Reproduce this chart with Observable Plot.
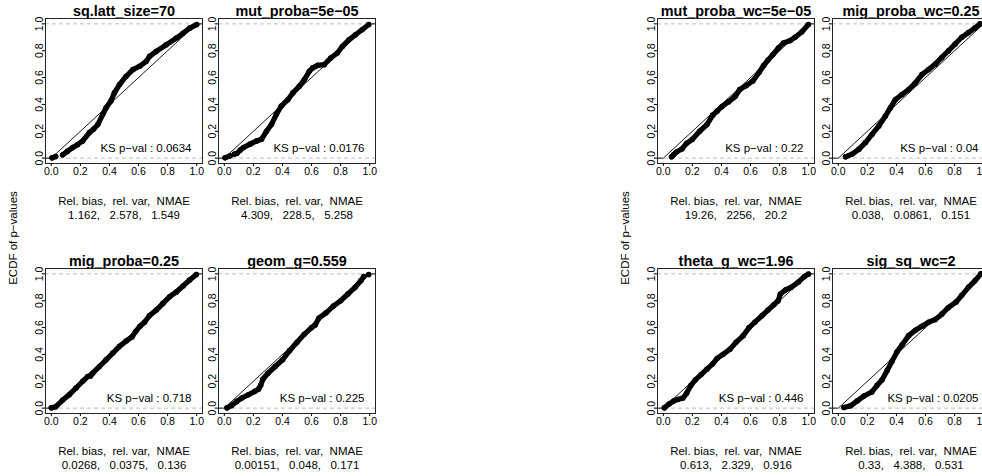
<!DOCTYPE html>
<html>
<head>
<meta charset="utf-8">
<script src="https://cdn.jsdelivr.net/npm/d3@7"></script>
<script src="https://cdn.jsdelivr.net/npm/@observablehq/plot@0.6"></script>
<style>
html, body { margin: 0; padding: 0; background: #fff; overflow: hidden; }
#root { position: relative; width: 982px; height: 476px; overflow: hidden; font-family: "Liberation Sans", Arial, Helvetica, sans-serif; }
.panel { position: absolute; }
.ylab { position: absolute; font-size: 11.5px; white-space: nowrap; line-height: 1; transform: translate(-50%, -50%) rotate(-90deg); color: #000; }
</style>
</head>
<body>
<div id="root"></div>
<script>
// ---- data ----
const titles = ["sq.latt_size=70", "mut_proba=5e\u221205", "mig_proba=0.25", "geom_g=0.559",
                "mut_proba_wc=5e\u221205", "mig_proba_wc=0.25", "theta_g_wc=1.96", "sig_sq_wc=2"];
const ksPvals = ["0.0634", "0.0176", "0.718", "0.225", "0.22", "0.04", "0.446", "0.0205"];
const relBias = ["1.162", "4.309", "0.0268", "0.00151", "19.26", "0.038", "0.613", "0.33"];
const relVar  = ["2.578", "228.5", "0.0375", "0.048", "2256", "0.0861", "2.329", "4.388"];
const nmae    = ["1.549", "5.258", "0.136", "0.171", "20.2", "0.151", "0.916", "0.531"];
const statHeader = "Rel. bias,  rel. var,  NMAE";
const tickVals = [0, 0.2, 0.4, 0.6, 0.8, 1.0];
const refLevels = [0, 1];
const uniformCdf = [[-0.04, 0], [0, 0], [1, 1], [1.04, 1]];

// ECDF curves (p-value, ECDF) ; null = gap between points
const ecdfSqLatt = [[0.005,0.002],[0.03,0.012],null,[0.078,0.025],[0.11,0.05],[0.147,0.079],[0.18,0.1],[0.216,0.128],[0.262,0.19],[0.29,0.215],[0.32,0.25],[0.354,0.326],[0.377,0.375],[0.41,0.425],[0.434,0.486],[0.469,0.548],[0.515,0.61],[0.561,0.659],[0.607,0.684],[0.653,0.721],[0.676,0.758],[0.722,0.795],[0.79,0.844],[0.86,0.894],[0.906,0.93],[0.952,0.968],[1.0,0.995]];
const ecdfMutProba = [[0.005,0.003],[0.04,0.017],null,[0.07,0.03],[0.086,0.035],[0.11,0.06],[0.132,0.079],[0.177,0.104],[0.222,0.128],[0.256,0.141],[0.29,0.2],[0.324,0.25],[0.358,0.326],[0.392,0.388],[0.438,0.437],[0.472,0.486],[0.517,0.536],[0.551,0.585],[0.585,0.647],[0.608,0.672],[0.642,0.691],[0.687,0.696],[0.732,0.746],[0.778,0.783],[0.812,0.832],[0.857,0.881],[0.902,0.919],[0.948,0.956],[0.993,0.995]];
const ecdfMigProba = [[0.0,0.002],[0.03,0.01],[0.078,0.06],[0.124,0.1],[0.17,0.15],[0.216,0.2],[0.25,0.235],[0.27,0.24],[0.285,0.26],[0.331,0.31],[0.377,0.36],[0.423,0.41],[0.469,0.46],[0.515,0.5],[0.555,0.53],[0.58,0.57],[0.61,0.61],[0.641,0.64],[0.676,0.69],[0.722,0.73],[0.768,0.78],[0.814,0.83],[0.86,0.865],[0.906,0.91],[0.952,0.955],[0.998,0.995]];
const ecdfGeomG = [[0.018,0.002],[0.05,0.02],[0.086,0.05],[0.12,0.075],[0.165,0.1],[0.21,0.125],[0.235,0.14],[0.25,0.17],[0.265,0.215],[0.3,0.26],[0.35,0.31],[0.4,0.36],[0.45,0.43],[0.5,0.49],[0.55,0.55],[0.6,0.6],[0.625,0.62],[0.65,0.67],[0.7,0.71],[0.75,0.76],[0.8,0.8],[0.85,0.85],[0.9,0.9],[0.94,0.95],[0.96,0.98],null,[0.993,0.995]];
const ecdfMutProbaWc = [[0.057,0.01],[0.07,0.025],[0.09,0.045],[0.13,0.07],[0.16,0.11],[0.2,0.14],[0.25,0.2],[0.3,0.25],[0.34,0.32],[0.37,0.35],[0.404,0.385],[0.45,0.42],[0.495,0.46],[0.525,0.51],[0.57,0.54],[0.616,0.575],[0.66,0.64],[0.69,0.69],[0.72,0.73],[0.753,0.77],[0.792,0.82],[0.826,0.857],[0.872,0.875],[0.906,0.9],[0.952,0.94],[0.998,0.995]];
const ecdfMigProbaWc = [[0.05,0.01],[0.096,0.03],[0.142,0.067],[0.187,0.116],[0.233,0.178],[0.279,0.24],[0.324,0.314],[0.358,0.375],[0.393,0.437],[0.438,0.474],[0.484,0.511],[0.53,0.56],[0.575,0.622],[0.621,0.66],[0.667,0.7],[0.712,0.75],[0.758,0.8],[0.804,0.85],[0.849,0.9],[0.895,0.935],[0.941,0.97],[0.975,1.0]];
const ecdfThetaGWc = [[0.007,0.002],[0.039,0.03],[0.073,0.055],[0.1,0.065],[0.135,0.075],[0.16,0.11],[0.19,0.17],[0.22,0.21],[0.26,0.25],[0.3,0.29],[0.34,0.33],[0.37,0.37],[0.41,0.4],[0.46,0.44],[0.5,0.49],[0.55,0.54],[0.59,0.6],[0.63,0.64],[0.68,0.69],[0.72,0.73],[0.76,0.77],[0.79,0.8],[0.805,0.85],[0.84,0.88],[0.88,0.9],[0.93,0.94],[0.97,0.98],[0.998,0.998]];
const ecdfSigSqWc = [[0.039,0.005],[0.084,0.017],[0.13,0.054],[0.176,0.09],[0.23,0.12],[0.267,0.17],[0.3,0.21],[0.336,0.28],[0.37,0.35],[0.404,0.42],[0.438,0.47],[0.484,0.54],[0.53,0.58],[0.575,0.61],[0.621,0.64],[0.667,0.66],[0.712,0.7],[0.758,0.75],[0.81,0.79],[0.849,0.84],[0.895,0.9],[0.941,0.95],[0.98,1.0]];
const curves = [ecdfSqLatt, ecdfMutProba, ecdfMigProba, ecdfGeomG, ecdfMutProbaWc, ecdfMigProbaWc, ecdfThetaGWc, ecdfSigSqWc];

// ---- layout ----
const boxLefts = [45, 218, 45, 218, 657, 832, 657, 832];
const boxTops  = [18, 18, 268, 268, 18, 18, 268, 268];
const BW = 157, BH = 145, ML = 40, MR = 10, MT = 22, MB = 62;
const FONT = "'Liberation Sans', Arial, Helvetica, sans-serif";

const root = document.getElementById("root");

function panel(i) {
  const pts = curves[i].map(d => d ? {x: d[0], y: d[1]} : {x: NaN, y: NaN});
  const stats = statHeader + "\n" + [relBias[i], relVar[i], nmae[i]].join(",   ");
  return Plot.plot({
    width: ML + BW + MR, height: MT + BH + MB,
    marginLeft: ML, marginRight: MR, marginTop: MT, marginBottom: MB,
    style: {fontFamily: FONT, background: "transparent", overflow: "visible", whiteSpace: "pre", color: "#000"},
    x: {domain: [-0.04, 1.04]},
    y: {domain: [-0.04, 1.04]},
    marks: [
      Plot.ruleY(refLevels, {stroke: "#bdbdbd", strokeDasharray: "4,3", strokeWidth: 1}),
      Plot.line(uniformCdf, {x: d => d[0], y: d => d[1], stroke: "#000", strokeWidth: 0.9}),
      Plot.line(pts, {x: "x", y: "y", stroke: "#000", strokeWidth: 5.2, strokeLinejoin: "round", strokeLinecap: "round"}),
      Plot.dot(pts, {x: "x", y: "y", r: 2.8, fill: "#000", stroke: "none"}),
      Plot.text([titles[i]], {frameAnchor: "top", dy: -2.5, lineAnchor: "bottom", fontWeight: "bold", fontSize: 14.4}),
      Plot.frame({stroke: "#222", strokeWidth: 1}),
      Plot.axisX({ticks: tickVals, tickFormat: d3.format(".1f"), tickSize: 3, tickPadding: 1.5, fontSize: 10.5, label: null}),
      Plot.axisY({ticks: tickVals, tickFormat: d3.format(".1f"), tickSize: 2.5, tickPadding: 0, fontSize: 10.5, label: null, tickRotate: -90, textAnchor: "middle", lineAnchor: "bottom"}),
      Plot.text(["KS p\u2212val : " + ksPvals[i]], {frameAnchor: "bottom-right", dx: -11, dy: -11.5, lineAnchor: "bottom", textAnchor: "end", fontSize: 11.5}),
      Plot.text([stats], {frameAnchor: "bottom", dy: 55, lineAnchor: "bottom", fontSize: 11.5, lineHeight: 1.19})
    ]
  });
}

for (let i = 0; i < 8; i++) {
  const svg = panel(i);
  svg.classList.add("panel");
  svg.style.left = (boxLefts[i] - ML) + "px";
  svg.style.top = (boxTops[i] - MT) + "px";
  root.appendChild(svg);
}

for (const cx of [14, 626]) {
  const lab = document.createElement("div");
  lab.className = "ylab";
  lab.textContent = "ECDF of p\u2212values";
  lab.style.left = cx + "px";
  lab.style.top = "238px";
  root.appendChild(lab);
}
</script>
</body>
</html>
